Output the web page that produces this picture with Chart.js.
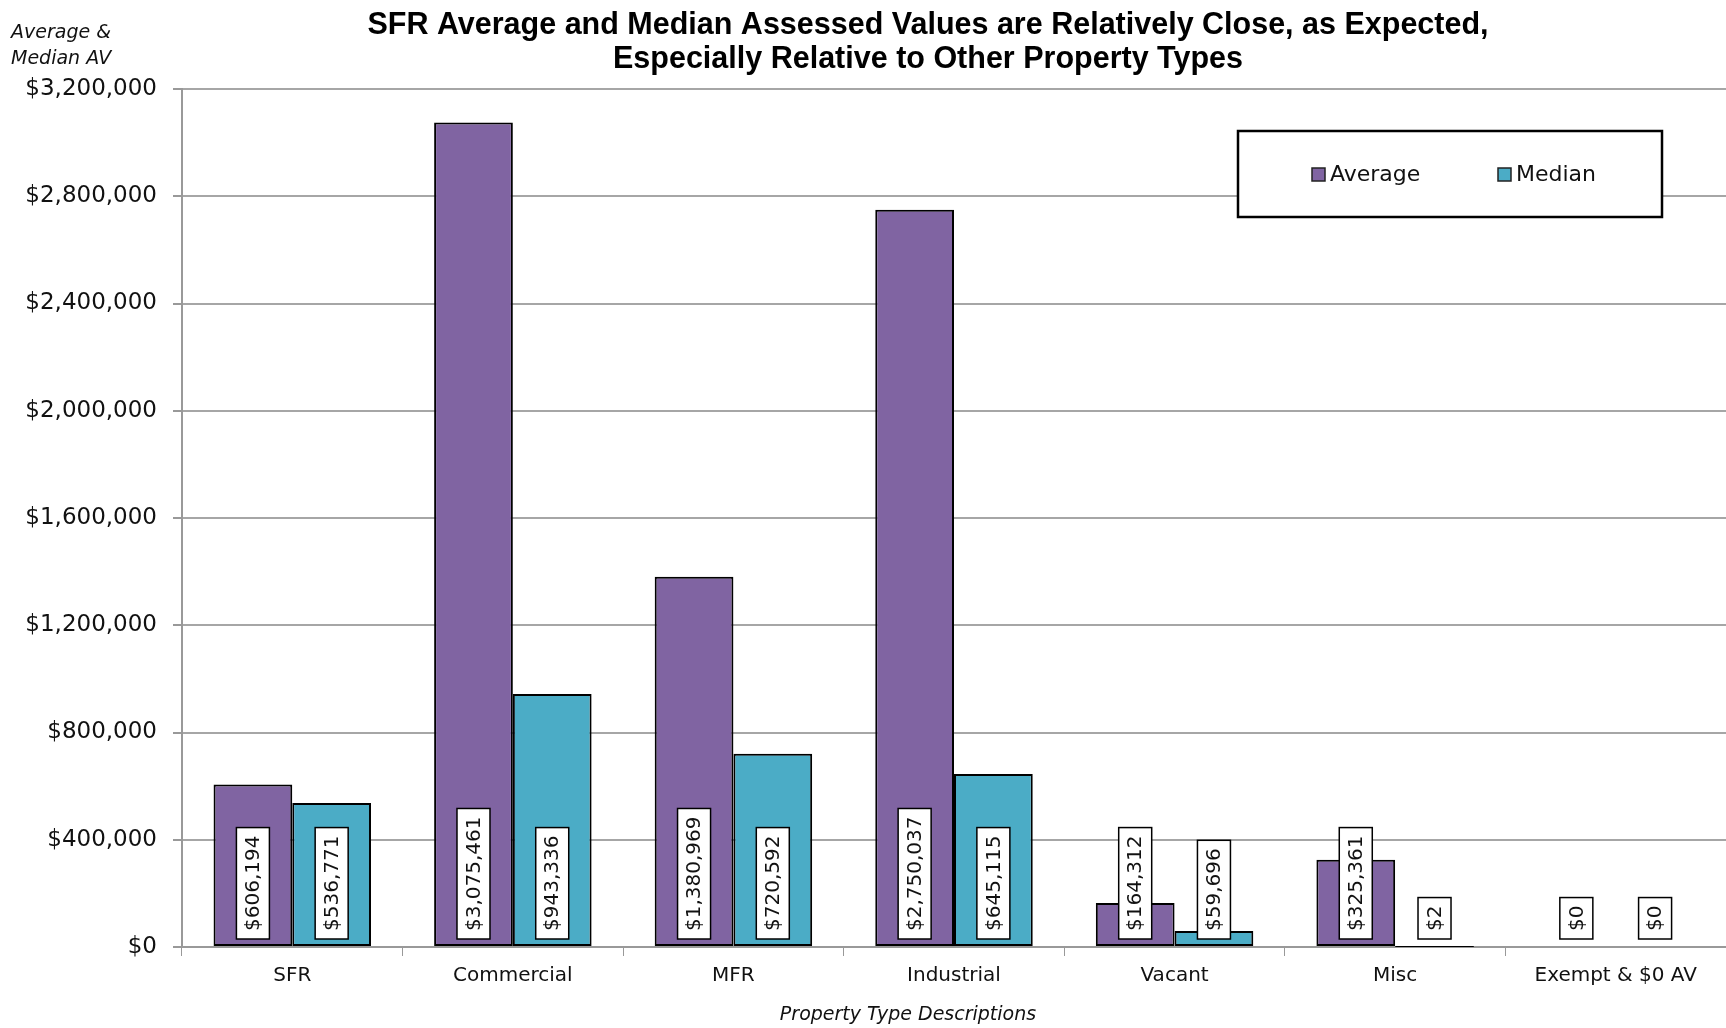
<!DOCTYPE html>
<html>
<head>
<meta charset="utf-8">
<script src="https://cdn.jsdelivr.net/npm/chart.js@4.4.1/dist/chart.umd.min.js"></script>
<style>
  html, body { margin: 0; padding: 0; background: #fff; }
  #wrap { width: 1726px; height: 1028px; }
</style>
</head>
<body>
<div id="wrap"><canvas id="c" width="1726" height="1028"></canvas></div>
<script>
// data
const categories = ['SFR', 'Commercial', 'MFR', 'Industrial', 'Vacant', 'Misc', 'Exempt & $0 AV'];
const averageValues = [606194, 3075461, 1380969, 2750037, 164312, 325361, 0];
const medianValues = [536771, 943336, 720592, 645115, 59696, 2, 0];
const titleLines = [
  'SFR Average and Median Assessed Values are Relatively Close, as Expected,',
  'Especially Relative to Other Property Types'
];
const yTitleLines = ['Average &', 'Median AV'];
const xTitle = 'Property Type Descriptions';

const PURPLE = '#8064a2';
const TEAL = '#4bacc6';
const FONT = '"DejaVu Sans", sans-serif';

const money = v => '$' + Math.round(v).toLocaleString('en-US');

// title, axis titles, legend box and the white value labels
const overlay = {
  id: 'overlay',
  afterDatasetsDraw(chart) {
    const ctx = chart.ctx;
    const y = chart.scales.y;
    const base = y.getPixelForValue(0);
    chart.data.datasets.forEach((ds, di) => {
      const meta = chart.getDatasetMeta(di);
      meta.data.forEach((bar, i) => {
        const txt = money(ds.data[i]);
        ctx.save();
        ctx.font = '20px ' + FONT;
        const tw = ctx.measureText(txt).width;
        const h = tw + 16, w = 33;
        const bottom = base - 8;
        ctx.fillStyle = '#fff';
        ctx.strokeStyle = '#000';
        ctx.lineWidth = 1.5;
        ctx.fillRect(bar.x - w / 2, bottom - h, w, h);
        ctx.strokeRect(bar.x - w / 2, bottom - h, w, h);
        ctx.translate(bar.x, bottom - h / 2);
        ctx.rotate(-Math.PI / 2);
        ctx.fillStyle = '#111';
        ctx.textAlign = 'center';
        ctx.textBaseline = 'middle';
        ctx.fillText(txt, 0, 1);
        ctx.restore();
      });
    });
  },
  afterDraw(chart) {
    const ctx = chart.ctx;
    ctx.save();
    // title
    ctx.fillStyle = '#000';
    ctx.textAlign = 'center';
    ctx.textBaseline = 'middle';
    ctx.font = 'bold 30.5px "Liberation Sans", Arial, sans-serif';
    ctx.fillText(titleLines[0], 928, 26);
    ctx.fillText(titleLines[1], 928, 60);

    // y axis title
    ctx.textAlign = 'left';
    ctx.font = 'italic 19px ' + FONT;
    ctx.fillStyle = '#111';
    ctx.fillText(yTitleLines[0], 11, 33);
    ctx.fillText(yTitleLines[1], 11, 59);

    // x axis title
    ctx.textAlign = 'center';
    ctx.fillText(xTitle, 908, 1015);

    // legend
    const lx = 1238, ly = 131, lw = 424, lh = 86;
    ctx.fillStyle = '#fff';
    ctx.fillRect(lx, ly, lw, lh);
    ctx.strokeStyle = '#000';
    ctx.lineWidth = 2.5;
    ctx.strokeRect(lx, ly, lw, lh);
    const items = [[1312, 0], [1498, 1]];
    ctx.font = '22px ' + FONT;
    ctx.textAlign = 'left';
    items.forEach(([x, di]) => {
      const ds = chart.data.datasets[di];
      ctx.fillStyle = ds.backgroundColor;
      ctx.fillRect(x, 168, 13, 13);
      ctx.strokeStyle = '#222';
      ctx.lineWidth = 1.5;
      ctx.strokeRect(x, 168, 13, 13);
      ctx.fillStyle = '#111';
      ctx.fillText(ds.label, x + 18, 175);
    });
    ctx.restore();
  }
};

new Chart(document.getElementById('c'), {
  type: 'bar',
  data: {
    labels: categories,
    datasets: [
      {
        label: 'Average',
        data: averageValues,
        backgroundColor: PURPLE,
        borderColor: '#000',
        borderWidth: 2,
        borderSkipped: false
      },
      {
        label: 'Median',
        data: medianValues,
        backgroundColor: TEAL,
        borderColor: '#000',
        borderWidth: 2,
        borderSkipped: false
      }
    ]
  },
  options: {
    responsive: false,
    animation: false,
    devicePixelRatio: 1,
    layout: { padding: { top: 89, left: 0, right: 0, bottom: 0 } },
    categoryPercentage: 0.714,
    barPercentage: 1.0,
    plugins: {
      legend: { display: false },
      title: { display: false },
      tooltip: { enabled: false }
    },
    scales: {
      x: {
        afterFit: s => { s.height = 81; },
        grid: {
          offset: true,
          drawOnChartArea: false,
          drawTicks: true,
          tickLength: 9,
          color: '#999'
        },
        border: { color: '#999', width: 2 },
        ticks: {
          color: '#111',
          font: { family: FONT, size: 20 },
          padding: 8,
          maxRotation: 0,
          autoSkip: false
        }
      },
      y: {
        min: 0,
        max: 3200000,
        afterFit: s => { s.width = 182; },
        grid: {
          color: '#a6a6a6',
          lineWidth: 2,
          tickLength: 9,
          tickColor: '#999'
        },
        border: { color: '#999', width: 2 },
        ticks: {
          stepSize: 400000,
          color: '#111',
          font: { family: FONT, size: 23 },
          padding: 16,
          callback: v => money(v)
        }
      }
    }
  },
  plugins: [overlay]
});
</script>
</body>
</html>
